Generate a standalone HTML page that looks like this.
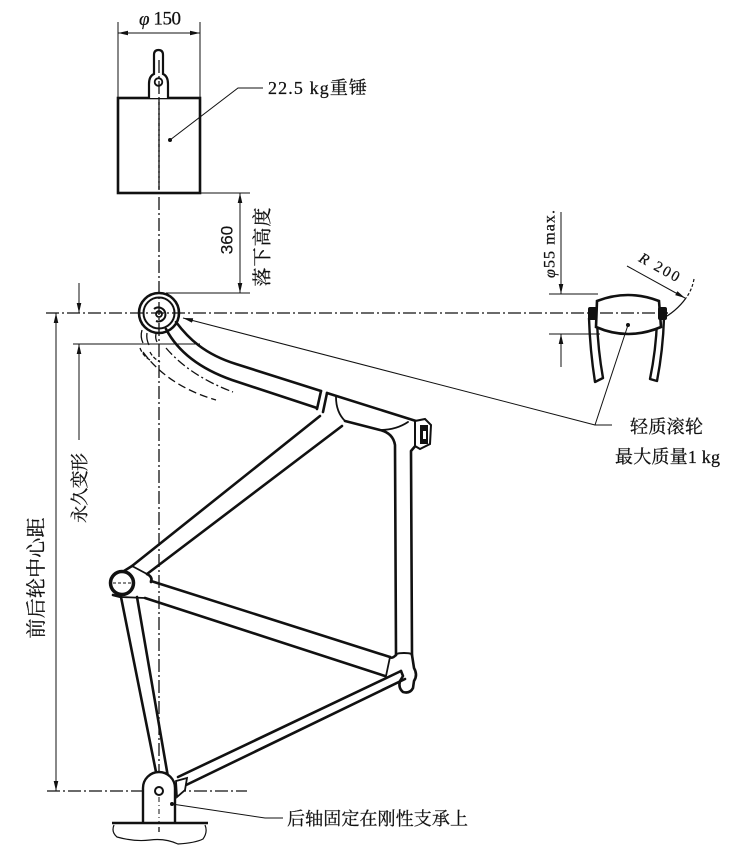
<!DOCTYPE html>
<html><head><meta charset="utf-8"><style>
html,body{margin:0;padding:0;background:#fff;}
svg{display:block;}
.t{font-family:"Liberation Serif","Noto Serif CJK SC","Noto Sans CJK SC",serif;fill:#111;stroke:#111;stroke-width:0.25;}
.s{font-family:"Liberation Sans","Noto Sans CJK SC",sans-serif;fill:#111;stroke:#111;stroke-width:0.2;}
</style></head><body>
<svg width="746" height="865" viewBox="0 0 746 865" xmlns="http://www.w3.org/2000/svg">
<defs>
<marker id="a" markerUnits="userSpaceOnUse" markerWidth="10" markerHeight="6" viewBox="0 0 10 6" refX="10" refY="3" orient="auto-start-reverse">
<path d="M0,0.7 L10,3 L0,5.3 Z" fill="#111"/>
</marker>
</defs>
<rect width="746" height="865" fill="#fff"/>

<!-- centerlines -->
<g stroke="#111" stroke-width="1.3" fill="none" stroke-dasharray="13 3 2 3">
<line x1="159" y1="50" x2="159" y2="832"/>
<line x1="46" y1="313" x2="668" y2="313"/>
<line x1="47" y1="791" x2="247" y2="791"/>
</g>

<!-- phi150 dim -->
<g stroke="#111" stroke-width="1" fill="none">
<line x1="118" y1="22" x2="118" y2="98"/>
<line x1="200" y1="22" x2="200" y2="98"/>
<line x1="118" y1="33" x2="200" y2="33" marker-start="url(#a)" marker-end="url(#a)"/>
</g>
<text class="t" x="139" y="19" font-size="19" dominant-baseline="central" textLength="42"><tspan font-style="italic">φ</tspan> 150</text>

<!-- weight -->
<rect x="118" y="98" width="82" height="95" fill="none" stroke="#111" stroke-width="2.6"/>
<path d="M149,98 L149,84 Q149,76 154,74 L154,55 Q154,50 158.5,50 Q163,50 163,55 L163,74 Q168,76 168,84 L168,98" fill="#fff" stroke="#111" stroke-width="2.2"/>
<circle cx="158.5" cy="82" r="3.8" fill="#fff" stroke="#111" stroke-width="1.8"/>
<line x1="159" y1="60" x2="159" y2="190" stroke="#111" stroke-width="1.3" stroke-dasharray="13 3 2 3"/>
<circle cx="170" cy="140" r="2" fill="#111"/>
<polyline points="170,140 238,88 263,88" fill="none" stroke="#111" stroke-width="1"/>
<text class="t" x="268" y="88" font-size="18" dominant-baseline="central" textLength="99">22.5 kg重锤</text>

<!-- 360 dim -->
<g stroke="#111" stroke-width="1" fill="none">
<line x1="200" y1="193" x2="250" y2="193"/>
<line x1="166" y1="293" x2="250" y2="293"/>
<line x1="240" y1="193" x2="240" y2="293" marker-start="url(#a)" marker-end="url(#a)"/>
</g>
<text class="s" x="0" y="0" font-size="17" text-anchor="middle" dominant-baseline="central" transform="translate(227,240) rotate(-90)">360</text>
<text class="t" x="0" y="0" font-size="19" text-anchor="middle" dominant-baseline="central" textLength="79" transform="translate(263,247) rotate(-90)">落下高度</text>

<!-- left dims -->
<g stroke="#111" stroke-width="1" fill="none">
<line x1="73" y1="344" x2="200" y2="344"/>
<line x1="79" y1="283" x2="79" y2="313" marker-end="url(#a)"/>
<line x1="79" y1="440" x2="79" y2="344" marker-end="url(#a)"/>
<line x1="56" y1="313" x2="56" y2="791" marker-start="url(#a)" marker-end="url(#a)"/>
</g>
<text class="t" x="0" y="0" font-size="18" text-anchor="middle" dominant-baseline="central" textLength="70" transform="translate(80,488) rotate(-90)">永久变形</text>
<text class="t" x="0" y="0" font-size="20" text-anchor="middle" dominant-baseline="central" textLength="121" transform="translate(37,578) rotate(-90)">前后轮中心距</text>

<!-- deformation dashes -->
<g stroke="#111" stroke-width="1.3" fill="none">
<path d="M166,348 Q190,376 233,392" stroke-dasharray="9 3 2 3"/>
<path d="M143,352 Q168,386 216,400" stroke-dasharray="8 4"/>
<path d="M142,330 Q140,337 143,343" />
<path d="M147,333 Q146,339 149,345" />
<path d="M156,334 Q155,338 157,342" />
<path d="M140,348 Q143,356 150,360" stroke-dasharray="4 2"/>
<path d="M150,352 Q153,358 160,362" stroke-dasharray="4 2"/>
</g>

<!-- frame tubes -->
<g stroke="#111" stroke-width="2.6" fill="none" stroke-linecap="round" stroke-linejoin="round">
<!-- fork -->
<path d="M176,322 C188,338 204,354 236,364 L321,391"/>
<path d="M166,329 C177,350 198,368 232,380 L317,408"/>
<path d="M321,391 L317,409"/>
<path d="M327,393 L323,412"/>
<!-- head tube -->
<path d="M327,393 L416,421"/>
<path d="M345,421 L380,430 Q393,433 395,445 L396,655"/>
<path d="M336,397 Q336,412 345,421" stroke-width="1.8"/>
<path d="M380,430 Q396,430 408,422" stroke-width="1.8"/>
<path d="M417,444 L411,451 L412,655"/>
<!-- down tube -->
<path d="M320,416 L132,566"/>
<path d="M342,426 L147,574"/>
<path d="M132,566 L147,574" stroke-width="1.8"/>
<!-- BB lug -->
<path d="M124,571 L132,566"/>
<path d="M147,574 Q153,577 151,582"/>
<!-- seat tube -->
<path d="M151,581 L390,657"/>
<path d="M145,598 L385,676"/>
<path d="M390,657 L386,676" stroke-width="1.8"/>
<!-- chain stay -->
<path d="M113,595 L121,597 L157,777"/>
<path d="M137,597 L168,777"/>
<path d="M121,597 L145,598" stroke-width="1.8"/>
<!-- seat stay -->
<path d="M401,671 L178,777"/>
<path d="M405,679 L182,787"/>
<!-- seat cluster -->
<path d="M396,655 Q396,653 404,653 Q412,653 412,655" stroke-width="2"/>
<path d="M396,655 Q392,659 390,657"/>
<path d="M412,655 L414,668 Q418,675 414,681 L413,688 Q410,694 403,692 Q398,688 400,681 L403,676 L401,671"/>
</g>

<!-- head cap -->
<path d="M415,421 L425,419 L431,425 L430,444 L420,449 L415,446 Z" fill="#fff" stroke="#111" stroke-width="2"/>
<rect x="420" y="425" width="8" height="19" fill="#111"/>
<rect x="423" y="431" width="3" height="8" fill="#fff"/>

<!-- BB -->
<circle cx="122" cy="583" r="11.5" fill="#fff" stroke="#111" stroke-width="3.5"/>
<line x1="113" y1="583" x2="135" y2="583" stroke="#111" stroke-width="1" stroke-dasharray="3 2"/>

<!-- front dropout -->
<circle cx="159" cy="313" r="20" fill="none" stroke="#111" stroke-width="2.6"/>
<circle cx="159" cy="313" r="15.5" fill="none" stroke="#111" stroke-width="2"/>
<path d="M154,309 A7,7 0 1 1 156,321" fill="none" stroke="#111" stroke-width="2"/>
<circle cx="159" cy="314" r="3" fill="none" stroke="#111" stroke-width="1.8"/>

<!-- rear mount -->
<path d="M143,822 L143,788 A16,16 0 0 1 175,788 L175,822" fill="#fff" stroke="#111" stroke-width="2.4"/>
<path d="M176,781 L187,778 L185,790 L177,797 Z" fill="#fff" stroke="#111" stroke-width="1.8"/>
<circle cx="159" cy="791" r="4" fill="#fff" stroke="#111" stroke-width="2"/>
<line x1="159" y1="797" x2="159" y2="822" stroke="#111" stroke-width="1" stroke-dasharray="5 3 1 3"/>
<line x1="112" y1="823" x2="208" y2="823" stroke="#111" stroke-width="2.6"/>
<path d="M114,825 Q111,832 117,837 Q135,842 150,840 Q165,838 178,844 Q195,843 203,839 Q208,832 205,825" fill="none" stroke="#111" stroke-width="1.2"/>
<circle cx="172" cy="804" r="2" fill="#111"/>
<polyline points="172,804 265,818 283,818" fill="none" stroke="#111" stroke-width="1"/>
<text class="t" x="287" y="819" font-size="18" dominant-baseline="central" textLength="181">后轴固定在刚性支承上</text>

<!-- roller -->
<g stroke="#111" stroke-width="1" fill="none">
<line x1="549" y1="294" x2="598" y2="294"/>
<line x1="549" y1="334" x2="600" y2="334"/>
<line x1="561" y1="212" x2="561" y2="294" marker-end="url(#a)"/>
<line x1="561" y1="367" x2="561" y2="334" marker-end="url(#a)"/>
</g>
<text class="t" x="0" y="0" font-size="16" text-anchor="middle" dominant-baseline="central" textLength="68" transform="translate(550,244) rotate(-90)"><tspan font-style="italic">φ</tspan>55 max.</text>

<g stroke="#111" stroke-width="2.4" fill="none" stroke-linejoin="round">
<path d="M589,318 Q590,350 595,382 L603,378 Q598,350 597,321"/>
<path d="M664,318 Q663,350 657,381 L650,379 Q656,350 657,321"/>
</g>
<path d="M597,301 Q628,289 659,301 L661,327 Q628,341 596,327 Z" fill="#fff" stroke="#111" stroke-width="2.6"/>
<rect x="588" y="307" width="9" height="13" rx="2" fill="#111"/>
<rect x="658" y="307" width="9" height="13" rx="2" fill="#111"/>
<line x1="600" y1="313" x2="668" y2="313" stroke="#111" stroke-width="1.3" stroke-dasharray="13 3 2 3"/>
<circle cx="628" cy="325" r="2" fill="#111"/>

<!-- R200 -->
<path d="M694,279 Q692,290 686,298" fill="none" stroke="#111" stroke-width="1.2" stroke-dasharray="3 2"/>
<path d="M686,298 Q676,312 660,320" fill="none" stroke="#111" stroke-width="1.2"/>
<line x1="627" y1="266" x2="685" y2="298" stroke="#111" stroke-width="1" marker-end="url(#a)"/>
<text class="t" x="0" y="0" font-size="15" text-anchor="middle" dominant-baseline="central" textLength="44" transform="translate(659,268) rotate(29)"><tspan font-style="italic">R</tspan> 200</text>

<!-- roller leader -->
<polyline points="628,325 595,425 612,425" fill="none" stroke="#111" stroke-width="1"/>
<line x1="595" y1="425" x2="183" y2="318" stroke="#111" stroke-width="1" marker-end="url(#a)"/>
<text class="t" x="630" y="427" font-size="18" dominant-baseline="central" textLength="73">轻质滚轮</text>
<text class="t" x="615" y="457" font-size="18" dominant-baseline="central" textLength="105">最大质量1 kg</text>
</svg>
</body></html>
